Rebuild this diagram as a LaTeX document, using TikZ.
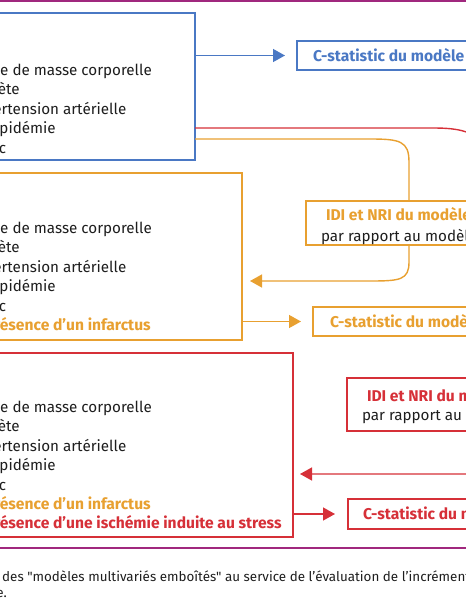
\documentclass[tikz,border=0pt]{standalone}
\usepackage{fontspec}
\setmainfont{Fira Sans}
\usetikzlibrary{arrows.meta}
\definecolor{cblue}{HTML}{4A78C4}
\definecolor{corange}{HTML}{E8A030}
\definecolor{cred}{HTML}{D63038}
\definecolor{cmag}{HTML}{A0287E}
\definecolor{ctext}{HTML}{1E1E1E}
\newlength\indicw
\newlength\prw
\newcommand\bodysize{\fontsize{15.2}{18}\selectfont}
\newcommand\hdsize{\fontsize{15.6}{18}\selectfont}
\newfontfamily\capfont{Fira Sans}[Ligatures=NoCommon]
\begin{document}
\settowidth{\indicw}{\bodysize Indic}
\settowidth{\prw}{\hdsize\bfseries Pr}
\begin{tikzpicture}[x=1pt,y=-1pt,
  frame/.style={draw, line width=1.4pt, inner sep=0pt, outer sep=0pt, fill=white},
  body/.style={anchor=base west, inner sep=0pt, outer sep=0pt, text=ctext, font=\bodysize},
  hd/.style={anchor=base west, inner sep=0pt, outer sep=0pt, font=\hdsize\bfseries},
  conn/.style={line width=1.4pt},
  tip/.style={-{Triangle[length=12pt,width=13pt]}}]
\useasboundingbox (0,0) rectangle (466,600);
\clip (0,0) rectangle (466,600);
% magenta rules
\draw[cmag, line width=2pt] (-5,1) -- (471,1);
\draw[cmag, line width=2pt] (-5,548) -- (471,548);
% boxes
\node[frame, draw=cblue, minimum width=235pt, minimum height=147pt] (b1) at (77.5,86.5) {};
\node[frame, draw=cblue, minimum width=223pt, minimum height=29pt] (cs1) at (408.5,55.5) {};
\node[frame, draw=corange, minimum width=282pt, minimum height=167pt] (b2) at (101,256.5) {};
\node[frame, draw=corange, minimum width=214pt, minimum height=44pt] (idi2) at (413,223) {};
\node[frame, draw=corange, minimum width=207pt, minimum height=29pt] (cs2) at (416.5,321.5) {};
\node[frame, draw=cred, minimum width=333pt, minimum height=184pt] (b3) at (126.5,445) {};
\node[frame, draw=cred, minimum width=213pt, minimum height=53pt] (idi3) at (453.5,404.5) {};
\node[frame, draw=cred, minimum width=212pt, minimum height=30pt] (cs3) at (454,514) {};
% box 1 text
\node[body, xshift=-\indicw] (t11) at (0.5,75.5) {Indice de masse corporelle};
\node[body, xshift=-\indicw] (t12) at (0.5,94.9) {Diabète};
\node[body, xshift=-\indicw] (t13) at (0.5,114.3) {Hypertension artérielle};
\node[body, xshift=-\indicw] (t14) at (0.5,133.7) {Dyslipidémie};
\node[body, xshift=-\indicw] (t15) at (0.5,153.1) {Tabac};
% box 2 text
\node[body, xshift=-\indicw] (t21) at (0.5,233.5) {Indice de masse corporelle};
\node[body, xshift=-\indicw] (t22) at (0.5,252.9) {Diabète};
\node[body, xshift=-\indicw] (t23) at (0.5,272.3) {Hypertension artérielle};
\node[body, xshift=-\indicw] (t24) at (0.5,291.7) {Dyslipidémie};
\node[body, xshift=-\indicw] (t25) at (0.5,311.1) {Tabac};
\node[hd, text=corange, xshift=-\prw] (t26) at (0.3,330.5) {Présence d'un infarctus};
% box 3 text
\node[body, xshift=-\indicw] (t31) at (0.5,412.5) {Indice de masse corporelle};
\node[body, xshift=-\indicw] (t32) at (0.5,431.9) {Diabète};
\node[body, xshift=-\indicw] (t33) at (0.5,451.3) {Hypertension artérielle};
\node[body, xshift=-\indicw] (t34) at (0.5,470.7) {Dyslipidémie};
\node[body, xshift=-\indicw] (t35) at (0.5,490.1) {Tabac};
\node[hd, text=corange, xshift=-\prw] (t36) at (0.3,509.5) {Présence d'un infarctus};
\node[hd, text=cred, xshift=-\prw] (t37) at (0.3,528.9) {Présence d'une ischémie induite au stress};
% right-hand texts
\node[hd, text=cblue] (cs1t) at (313,61) {C-statistic du modèle 1};
\node[hd, text=corange] (idi2a) at (326,220.5) {IDI et NRI du modèle 2};
\node[body] (idi2b) at (321,241) {par rapport au modèle 1};
\node[hd, text=corange] (cs2t) at (330,327) {C-statistic du modèle 2};
\node[hd, text=cred] (idi3a) at (367,401) {IDI et NRI du modèle 3};
\node[body] (idi3b) at (362,420.5) {par rapport au modèle 2};
\node[hd, text=cred] (cs3t) at (363,519.5) {C-statistic du modèle 3};
% caption
\node[anchor=base west, inner sep=0pt, text=ctext, font=\capfont\fontsize{13.4}{15}\selectfont] (cap1) at (2,581) {des "modèles multivariés emboîtés" au service de l’évaluation de l’incrément pronostique};
\node[anchor=base east, inner sep=0pt, text=ctext, font=\capfont\fontsize{13.4}{15}\selectfont] (cap2) at (7,597) {pronostique.};
% connectors
\coordinate (r1) at (433,128);
\coordinate (r2) at (485,165);
\coordinate (r3) at (485,445);
\coordinate (r4) at (460,474);
\coordinate (o1) at (370,139);
\coordinate (o2) at (409,162);
\coordinate (o3) at (409,262);
\coordinate (o4) at (370,281);
\draw[conn, cblue, tip, shorten >=12pt] (b1.east |- cs1.west) -- (cs1.west);
\draw[conn, cred] (b1.east |- r1) -- (r1) .. controls (470,128) and (485,135) .. (r2) -- (idi3.north -| r2);
\draw[conn, cred, tip, shorten >=7pt] (idi3.south -| r3) -- (r3) .. controls (485,474) and (480,474) .. (r4) -- (b3.east |- r4);
\draw[conn, corange] (b1.east |- o1) -- (o1) .. controls (400,139) and (409,141) .. (o2) -- (idi2.north -| o2);
\draw[conn, corange, tip, shorten >=8pt] (idi2.south -| o3) -- (o3) .. controls (409,280) and (400,281) .. (o4) -- (b2.east |- o4);
\draw[conn, corange, tip, shorten >=12pt] (b2.east |- cs2.west) -- (cs2.west);
\draw[conn, cred, tip, shorten >=13pt] (b3.east |- cs3.west) -- (cs3.west);
\end{tikzpicture}
\end{document}
